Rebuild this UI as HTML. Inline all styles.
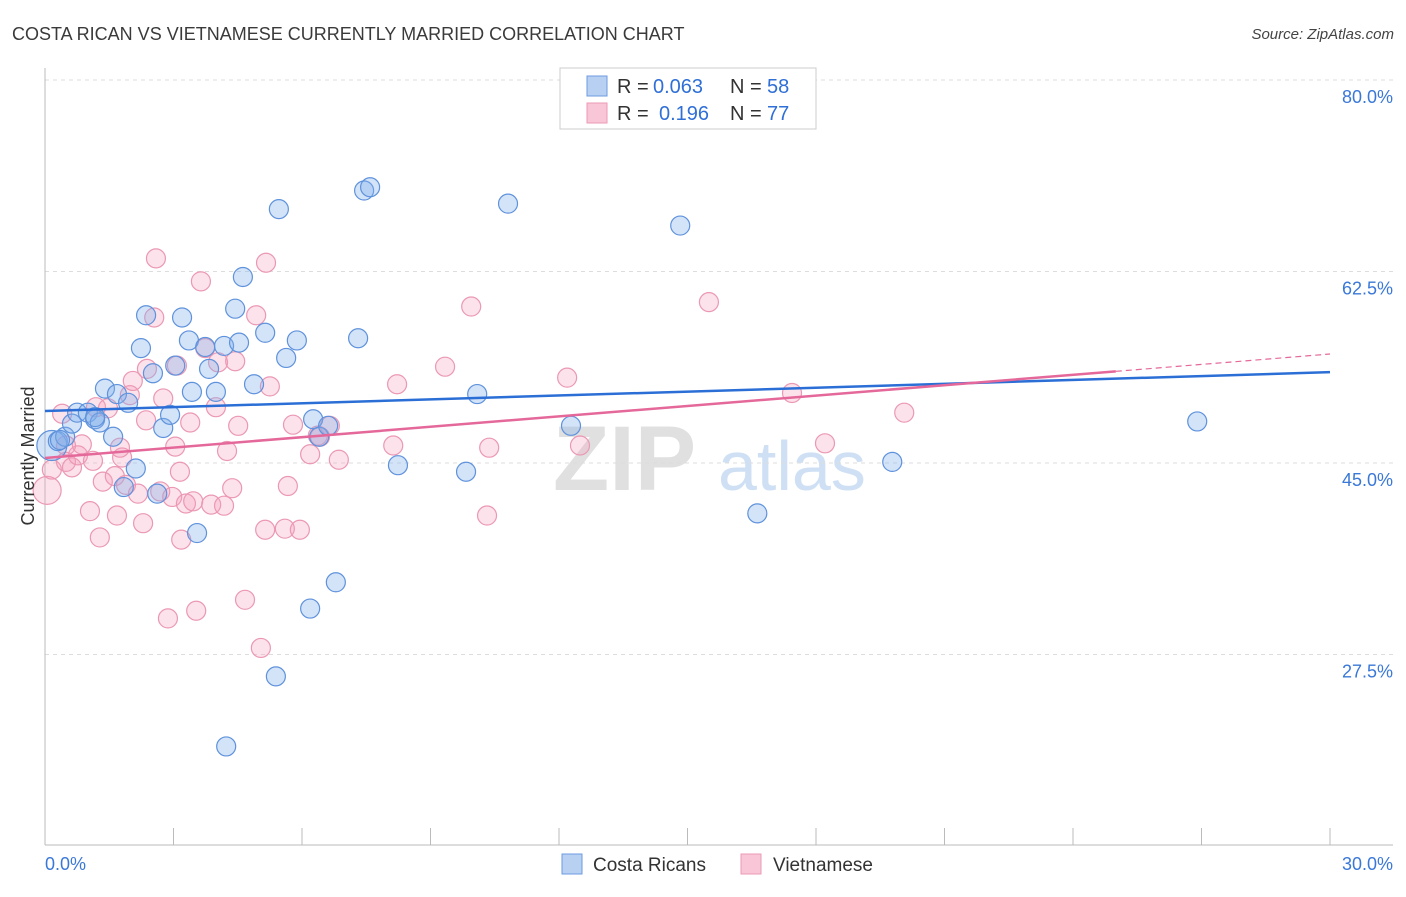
<!DOCTYPE html>
<html><head><meta charset="utf-8"><style>
body{margin:0;background:#fff;font-family:"Liberation Sans",sans-serif;}
svg text{font-family:"Liberation Sans",sans-serif;}
</style></head><body>
<svg id="chart" width="1406" height="892" viewBox="0 0 1406 892" xmlns="http://www.w3.org/2000/svg">
<text x="12" y="40" font-size="18" fill="#3a3a3a">COSTA RICAN VS VIETNAMESE CURRENTLY MARRIED CORRELATION CHART</text>
<text x="1394" y="39" font-size="15" fill="#444" text-anchor="end" font-style="italic">Source: ZipAtlas.com</text>
<g>
<text x="553" y="490" font-size="92" fill="#e0e0e0" font-family="Liberation Serif" font-weight="bold">ZIP</text>
<text x="718" y="490" font-size="70" fill="#cfe0f5">atlas</text>
</g>
<g id="grid"></g>
<g id="axes"></g>
<g id="marks"></g>
<g id="lines"></g>
<text transform="translate(34,456) rotate(-90)" font-size="18" fill="#333" text-anchor="middle">Currently Married</text>
<g>
<rect x="560" y="68" width="256" height="61" fill="#fff" stroke="#ccc"/>
<rect x="587" y="76" width="20" height="20" fill="#b8d0f2" stroke="#6d9be0"/>
<rect x="587" y="103" width="20" height="20" fill="#f8c6d6" stroke="#ec9ab5"/>
<text x="617" y="93" font-size="20" fill="#333">R =</text>
<text x="653" y="93" font-size="20" fill="#2f6fd6">0.063</text>
<text x="730" y="93" font-size="20" fill="#333">N =</text>
<text x="767" y="93" font-size="20" fill="#2f6fd6">58</text>
<text x="617" y="120" font-size="20" fill="#333">R =</text>
<text x="659" y="120" font-size="20" fill="#2f6fd6">0.196</text>
<text x="730" y="120" font-size="20" fill="#333">N =</text>
<text x="767" y="120" font-size="20" fill="#2f6fd6">77</text>
</g>
<g>
<rect x="562" y="854" width="20" height="20" fill="#b8d0f2" stroke="#6d9be0"/>
<text x="593" y="871" font-size="19" fill="#333">Costa Ricans</text>
<rect x="741" y="854" width="20" height="20" fill="#f8c6d6" stroke="#ec9ab5"/>
<text x="773" y="871" font-size="19" fill="#333">Vietnamese</text>
</g>
</svg>
<script>
const blueX=[0.16,0.30,0.47,0.63,0.75,1.00,1.17,1.28,1.40,1.59,1.68,1.94,2.12,2.24,2.36,2.52,2.62,2.76,2.92,3.04,3.20,3.36,3.43,3.55,3.74,3.83,3.99,4.18,4.23,4.44,4.53,4.62,4.88,5.14,5.39,5.46,5.63,5.88,6.19,6.26,6.40,6.61,6.79,7.31,7.45,7.59,8.24,9.83,10.09,10.81,12.28,14.83,16.63,19.78,26.90,1.84,0.35,1.17];
const blueY=[46.6,47.0,47.4,48.6,49.6,49.6,49.0,48.7,51.8,47.4,51.3,50.5,44.5,55.5,58.5,53.2,42.2,48.2,49.4,53.9,58.3,56.2,51.5,38.6,55.6,53.6,51.5,55.7,19.1,59.1,56.0,62.0,52.2,56.9,25.5,68.2,54.6,56.2,31.7,49.0,47.4,48.4,34.1,56.4,69.9,70.2,44.8,44.2,51.3,68.7,48.4,66.7,40.4,45.1,48.8,42.8,47.1,49.2];
const pinkX=[0.05,0.16,0.40,0.49,0.63,0.77,0.86,1.05,1.12,1.19,1.28,1.35,1.47,1.63,1.68,1.80,1.89,1.98,2.05,2.17,2.29,2.38,2.55,2.59,2.69,2.76,2.87,2.97,3.08,3.15,3.18,3.29,3.39,3.46,3.53,3.64,3.74,3.88,3.99,4.04,4.18,4.25,4.37,4.44,4.51,4.67,4.93,5.04,5.14,5.16,5.25,5.60,5.67,5.79,5.95,6.19,6.37,6.65,6.86,8.13,8.22,9.34,9.95,10.32,10.37,12.19,12.49,15.50,17.44,18.21,20.06,1.75,3.04,2.36,0.49,6.42];
const pinkY=[42.5,44.4,49.5,45.1,44.6,45.7,46.7,40.6,45.2,50.1,38.2,43.3,50.0,43.8,40.2,45.5,43.0,51.2,52.5,42.2,39.5,53.6,58.3,63.7,42.4,50.9,30.8,41.9,53.9,44.2,38.0,41.3,48.7,41.5,31.5,61.6,55.5,41.2,50.1,54.2,41.1,46.1,42.7,54.3,48.4,32.5,58.5,28.1,38.9,63.3,52.0,39.0,42.9,48.5,38.9,45.8,47.5,48.4,45.3,46.6,52.2,53.8,59.3,40.2,46.4,52.8,46.6,59.7,51.4,46.8,49.6,46.4,46.5,48.9,46.6,47.4];
const yTicks=[80,62.5,45,27.5];
const yTickLabels=["80.0%","62.5%","45.0%","27.5%"];
const xTicks=[0,3,6,9,12,15,18,21,24,27,30];
const blueTrend=[49.75,53.3];
const pinkTrend=[45.46,54.96];
const pinkSolidEnd=25;
const NS="http://www.w3.org/2000/svg";
const X=v=>45+v*(1285/30);
const Y=v=>80+(80-v)*10.943;
function mk(tag,attrs,parent){const e=document.createElementNS(NS,tag);for(const k in attrs)e.setAttribute(k,attrs[k]);document.getElementById(parent).appendChild(e);return e;}
yTicks.forEach((t,i)=>{
 const g=mk('line',{x1:45,x2:1393,y1:Y(t),y2:Y(t),stroke:'#ddd','stroke-dasharray':'4,4'},'grid');
 
 
 const tx=mk('text',{x:1393,y:Y(t)+23,'font-size':18,fill:'#3a78d8','text-anchor':'end'},'grid');
 tx.textContent=yTickLabels[i];
 
 
});
mk('line',{x1:45,x2:45,y1:68,y2:845,stroke:'#bbb'},'axes');
mk('line',{x1:45,x2:1393,y1:845,y2:845,stroke:'#bbb'},'axes');
xTicks.forEach(t=>{
 const l=mk('line',{x1:X(t),x2:X(t),y1:828,y2:845,stroke:'#bbb'},'axes');
 
 
});
const xl0=mk('text',{x:45,y:870,'font-size':18,fill:'#3a78d8'},'axes');xl0.textContent='0.0%';


const xl1=mk('text',{x:1393,y:870,'font-size':18,fill:'#3a78d8','text-anchor':'end'},'axes');xl1.textContent='30.0%';


function pts(xs,ys,fill,stroke,name){
 xs.forEach((x,i)=>{
  const r=(i===0)?(name==='costa-rican-point'?15:14):9.5;
  const c=mk('circle',{cx:X(x),cy:Y(ys[i]),r:r,fill:fill,stroke:stroke,'stroke-width':1.2},'marks');
  
  
 });
}
pts(pinkX,pinkY,'rgba(244,160,190,0.3)','#eb98b4','vietnamese-point');
pts(blueX,blueY,'rgba(130,175,235,0.35)','#5f92dc','costa-rican-point');
const bl=mk('line',{x1:X(0),y1:Y(blueTrend[0]),x2:X(30),y2:Y(blueTrend[1]),stroke:'#2b6fd6','stroke-width':2.5},'lines');


const pe=pinkTrend[0]+(pinkTrend[1]-pinkTrend[0])*pinkSolidEnd/30;
const pl=mk('line',{x1:X(0),y1:Y(pinkTrend[0]),x2:X(pinkSolidEnd),y2:Y(pe),stroke:'#e5689a','stroke-width':2.5},'lines');


const pd=mk('line',{x1:X(pinkSolidEnd),y1:Y(pe),x2:X(30),y2:Y(pinkTrend[1]),stroke:'#e5689a','stroke-width':1.2,'stroke-dasharray':'6,4'},'lines');


</script>
</body></html>
